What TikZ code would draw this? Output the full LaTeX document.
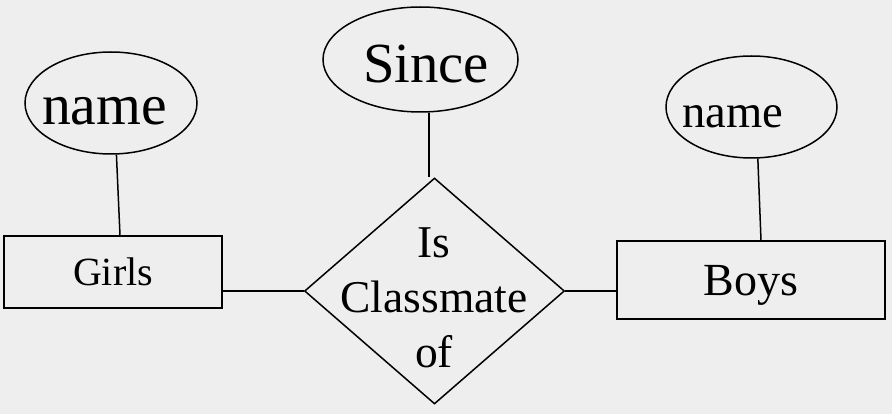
\documentclass[tikz,border=0pt]{standalone}
\usepackage{fontspec}
\setmainfont{Liberation Serif}
\usetikzlibrary{shapes.geometric}
\definecolor{bgpaper}{HTML}{EEEEEE}

\begin{document}
\begin{tikzpicture}[x=1pt, y=-1pt, line width=1.5pt,
  entity/.style = {draw, rectangle, inner sep=0pt, text depth=0pt},
  attrib/.style = {draw, ellipse, inner sep=0pt},
  relship/.style = {draw, diamond, inner sep=0pt},
  word/.style = {inner sep=0pt, anchor=base}]
  \fill[bgpaper] (0,0) rectangle (892,414);
  \useasboundingbox (0,0) rectangle (892,414);

  % attributes
  \node[attrib, minimum width=172pt, minimum height=102pt] (nameL) at (111,103) {};
  \node[word, font=\fontsize{57.7}{60}\selectfont] (nameLtext) at (104.5,125) {name};
  \node[attrib, minimum width=195pt, minimum height=105pt] (since) at (420.5,59.5) {};
  \node[word, font=\fontsize{56.7}{60}\selectfont] (sincetext) at (426,83) {Since};
  \node[attrib, minimum width=171pt, minimum height=102pt] (nameR) at (751.5,107) {};
  \node[word, font=\fontsize{46.6}{50}\selectfont] (nameRtext) at (732.5,128) {name};

  % entities
  \node[entity, minimum width=218pt, minimum height=72pt, font=\fontsize{40}{44}\selectfont] (girls) at (113,272) {Girls};
  \node[entity, minimum width=268pt, minimum height=78pt, font=\fontsize{46}{50}\selectfont] (boys) at (751,280) {Boys};

  % relationship
  \node[relship, minimum width=260pt, minimum height=226pt] (rel) at (434.5,291) {};
  \node[align=center, anchor=north, inner sep=0pt, font=\fontsize{45.5}{55}\selectfont] (reltext) at (434,227) {Is\\Classmate\\of};

  % connectors
  \draw (nameL.276) -- ([xshift=7pt]girls.north);
  \draw (since.279) -- (since.279 |- rel.north);
  \draw (nameR.277) -- ([xshift=10pt]boys.north);
  \draw (girls.east |- rel.west) -- (rel.west);
  \draw (rel.east) -- (boys.west |- rel.east);
\end{tikzpicture}
\end{document}
